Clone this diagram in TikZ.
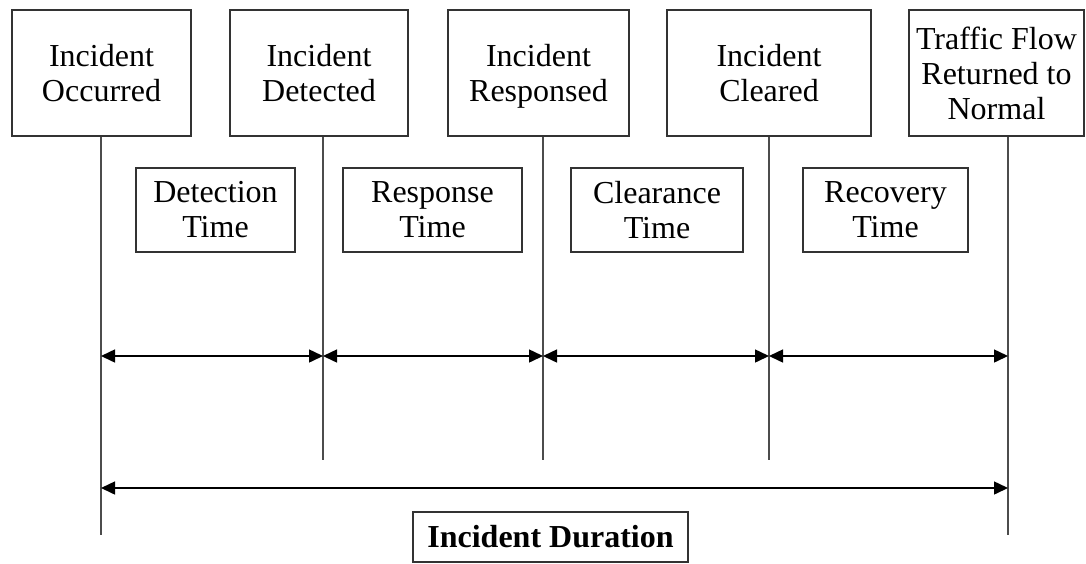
\documentclass[tikz,border=0pt]{standalone}
\usepackage{fontspec}
\setmainfont{Liberation Serif}
\usetikzlibrary{arrows.meta}

\begin{document}
\begin{tikzpicture}[x=1pt, y=-1pt,
	font=\fontsize{32}{35}\selectfont,
	eventbox/.style={rectangle, draw=black!80, line width=2.2pt, align=center, inner sep=0pt, minimum height=126pt},
	timebox/.style={rectangle, draw=black!80, line width=2.2pt, align=center, inner sep=0pt, minimum height=84pt},
	timeline/.style={draw=black!70, line width=2pt},
	spanarrow/.style={{Triangle[length=14pt,width=13pt]}-{Triangle[length=14pt,width=13pt]}, line width=1.5pt}]
	\useasboundingbox (0,0) rectangle (1086,563);

	% Events (top row)
	\node[eventbox, minimum width=179pt] (occurred) at (101.5,73) {Incident\\Occurred};
	\node[eventbox, minimum width=178pt] (detected) at (319,73) {Incident\\Detected};
	\node[eventbox, minimum width=181pt] (responsed) at (538.5,73) {Incident\\Res\smash{p}onsed};
	\node[eventbox, minimum width=204pt] (cleared) at (769,73) {Incident\\Cleared};
	\node[eventbox, minimum width=175pt] (normal) at (996.5,73) {Traffic Flow\\Returned to\\Normal};

	% Time periods (middle row)
	\node[timebox, minimum width=159pt] (detection) at (215.5,210) {Detection\\Time};
	\node[timebox, minimum width=179pt] (response) at (432.5,210) {Response\\Time};
	\node[timebox, minimum width=172pt] (clearance) at (657,210) {Clearance\\Time};
	\node[timebox, minimum width=165pt] (recovery) at (885.5,210) {Recovery\\Time};

	% Total duration
	\node[rectangle, draw=black!80, line width=2.2pt, inner sep=0pt, minimum width=275pt, minimum height=50pt, font=\fontsize{32}{35}\selectfont\bfseries] (duration) at (550.5,537) {Incident Duration};

	% Ends of the time lines
	\coordinate (end1) at (101,535);
	\coordinate (end2) at (323,460);
	\coordinate (end3) at (543,460);
	\coordinate (end4) at (769,460);
	\coordinate (end5) at (1008,535);
	\coordinate (row) at (0,356);
	\coordinate (total) at (0,488);

	% Time lines
	\draw[timeline] (occurred.south -| end1) -- (end1);
	\draw[timeline] (detected.south -| end2) -- (end2);
	\draw[timeline] (responsed.south -| end3) -- (end3);
	\draw[timeline] (cleared.south -| end4) -- (end4);
	\draw[timeline] (normal.south -| end5) -- (end5);

	% Periods between events
	\foreach \a/\b in {end1/end2, end2/end3, end3/end4, end4/end5}
		\draw[spanarrow] (\a |- row) -- (\b |- row);
	\draw[spanarrow] (end1 |- total) -- (end5 |- total);

\end{tikzpicture}
\end{document}
